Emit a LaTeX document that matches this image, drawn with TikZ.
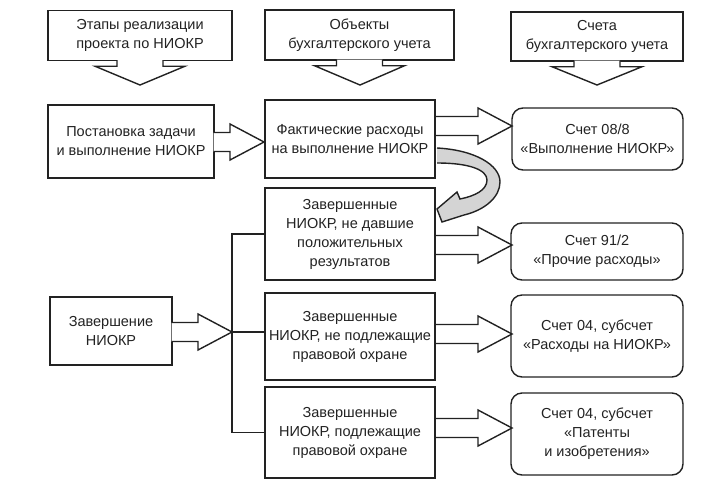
\documentclass[tikz,border=0pt]{standalone}
\usepackage{fontspec}
\setmainfont{Liberation Sans}
\usetikzlibrary{calc}
\definecolor{arrow_grey}{RGB}{212, 212, 212}
\definecolor{ink}{RGB}{34, 34, 34}
\tikzstyle{box}=[rectangle,draw=ink,line width=1.4pt,align=center,
  inner sep=2pt,text=ink,font=\fontsize{14.5}{19}\selectfont]
\tikzstyle{rbox}=[box,rounded corners=11pt]
\tikzstyle{none}=[]
\tikzstyle{harrow}=[draw=ink,line width=1.4pt,fill=white,
  to path={($(\tikztostart)+(-1,-9.5)$) -- ($(\tikztotarget)+(-34,-9.5)$)
    -- ($(\tikztotarget)+(-34,-18)$) -- (\tikztotarget)
    -- ($(\tikztotarget)+(-34,18)$) -- ($(\tikztotarget)+(-34,9.5)$)
    -- ($(\tikztostart)+(-1,9.5)$)}]
\tikzstyle{varrow}=[draw=ink,line width=1.4pt,fill=white,
  to path={($(\tikztostart)+(-23,-1)$) -- ($(\tikztostart)+(-23,5)$)
    -- ($(\tikztostart)+(-45,5)$) -- (\tikztotarget)
    -- ($(\tikztostart)+(45,5)$) -- ($(\tikztostart)+(23,5)$)
    -- ($(\tikztostart)+(23,-1)$)}]

\begin{document}
\begin{tikzpicture}[x=1pt,y=-1pt]
            \useasboundingbox (0, 0) rectangle (714, 483);
            % headers
            \node [style=box, minimum width=184, minimum height=50] (0) at (140, 35.5) {Этапы реализации\\проекта по НИОКР};
            \node [style=box, minimum width=189, minimum height=50] (1) at (359.5, 35) {Объекты\\бухгалтерского учета};
            \node [style=box, minimum width=172, minimum height=49] (2) at (597, 36.5) {Счета\\бухгалтерского учета};
            \node [style=none] (20) at (140, 85) {};
            \node [style=none] (21) at (360, 85) {};
            \node [style=none] (22) at (597, 85) {};
            % stages, objects, accounts
            \node [style=box, minimum width=166, minimum height=73] (3) at (131, 141.5) {Постановка задачи\\и выполнение НИОКР};
            \node [style=box, minimum width=170, minimum height=78] (4) at (350, 139) {Фактические расходы\\на выполнение НИОКР};
            \node [style=rbox, minimum width=171, minimum height=62] (5) at (597.5, 139) {Счет 08/8\\«Выполнение НИОКР»};
            \node [style=box, minimum width=170, minimum height=92] (6) at (350, 234) {Завершенные\\НИОКР, не давшие\\положительных\\результатов};
            \node [style=rbox, minimum width=172, minimum height=57] (7) at (597, 251.5) {Счет 91/2\\«Прочие расходы»};
            \node [style=box, minimum width=122, minimum height=68] (8) at (111, 331) {Завершение\\НИОКР};
            \node [style=box, minimum width=170, minimum height=87] (9) at (350, 336.5) {Завершенные\\НИОКР, не подлежащие\\правовой охране};
            \node [style=rbox, minimum width=172, minimum height=82] (10) at (597, 336) {Счет 04, субсчет\\«Расходы на НИОКР»};
            \node [style=box, minimum width=170, minimum height=91] (11) at (350, 432.5) {Завершенные\\НИОКР, подлежащие\\правовой охране};
            \node [style=rbox, minimum width=172, minimum height=82] (12) at (597, 434) {Счет 04, субсчет\\«Патенты\\и изобретения»};
            \node [style=none] (13) at (264, 142) {};
            \node [style=none] (14) at (512, 126) {};
            \node [style=none] (15) at (512, 245) {};
            \node [style=none] (16) at (232, 332) {};
            \node [style=none] (17) at (512, 334) {};
            \node [style=none] (18) at (512, 428) {};
            \draw [style=varrow] (0.south) to (20.center);
            \draw [style=varrow] (1.south) to (21.center);
            \draw [style=varrow] (2.south) to (22.center);
            \draw [style=harrow] (3.east |- 13.center) to (13.center);
            \draw [style=harrow, fill=none] (4.east |- 14.center) to (14.center);
            \draw [style=harrow, fill=none] (6.east |- 15.center) to (15.center);
            \draw [style=harrow] (8.east |- 16.center) to (16.center);
            \draw [style=harrow, fill=none] (9.east |- 17.center) to (17.center);
            \draw [style=harrow, fill=none] (11.east |- 18.center) to (18.center);
            \draw [draw=ink, line width=1.4pt] (16.center) |- (6.west);
            \draw [draw=ink, line width=1.4pt] (16.center) -- (16.center -| 9.west);
            \draw [draw=ink, line width=1.4pt] (16.center) |- (11.west);
            % bent arrow
            \draw [draw=ink, line width=1.4pt, fill=arrow_grey] (437, 148)
              .. controls (475, 150) and (500, 165) .. (500, 182)
              .. controls (500, 197) and (485, 210) .. (464, 215)
              -- (442, 222) -- (437, 209) -- (457, 192) -- (460, 199)
              .. controls (475, 196) and (487, 190) .. (487, 180)
              .. controls (487, 170) and (470, 163) .. (437, 163);
    \end{tikzpicture}
\end{document}
